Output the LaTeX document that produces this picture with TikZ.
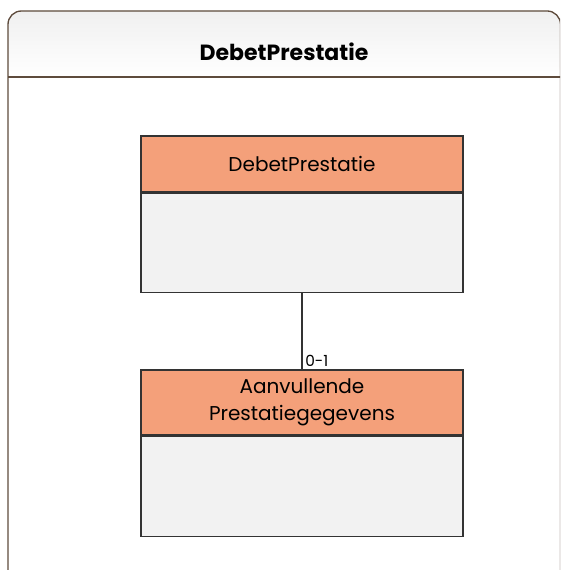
\documentclass[tikz,border=0pt]{standalone}
\usepackage{fontspec}
\setmainfont{Poppins}
\usetikzlibrary{positioning}

\definecolor{framebrown}{HTML}{5E4B3C}
\definecolor{headsalmon}{HTML}{F4A07A}
\definecolor{bodygray}{HTML}{F2F2F2}
\definecolor{linegray}{HTML}{333333}

\tikzset{
  classhead/.style={draw=linegray, fill=headsalmon, line width=1pt,
    minimum width=322*0.75pt, align=center, inner sep=0pt,
    font=\fontsize{15}{20.25}\selectfont},
  classbody/.style={draw=linegray, fill=bodygray, line width=1pt,
    minimum width=322*0.75pt, inner sep=0pt},
  assoc/.style={draw=linegray, line width=1pt}
}

\begin{document}
\begin{tikzpicture}[x=0.75pt, y=-0.75pt]
  \useasboundingbox (0,0) rectangle (560,570);
  \clip (0,0) rectangle (560,570);

  % Package frame
  \shade[top color=gray!12, bottom color=white, rounded corners=10]
    (8,77) -- (8,11) -- (560.5,11) -- (560.5,77) -- cycle;
  \draw[framebrown, line width=1pt, rounded corners=10]
    (8,580) -- (8,11) -- (560.5,11) -- (560.5,580);
  \draw[framebrown, line width=1pt] (8,77) -- (560.5,77);
  \node[font=\fontsize{16.5}{20}\selectfont\bfseries] (title) at (284,52) {DebetPrestatie};

  % Classes
  \node[classhead, minimum height=56*0.75pt] (dphead) at (302,164) {DebetPrestatie};
  \node[classbody, minimum height=99*0.75pt, below=0pt of dphead] (dpbody) {};

  \node[classhead, minimum height=65*0.75pt] (avhead) at (302,402.5) {Aanvullende\\Prestatiegegevens};
  \node[classbody, minimum height=100*0.75pt, below=0pt of avhead] (avbody) {};

  % Association
  \draw[assoc] (dpbody.south) -- (avhead.north)
    node[pos=1, anchor=south west, inner sep=2pt, font=\fontsize{11.5}{13}\selectfont] (mult) {0-1};
\end{tikzpicture}
\end{document}
